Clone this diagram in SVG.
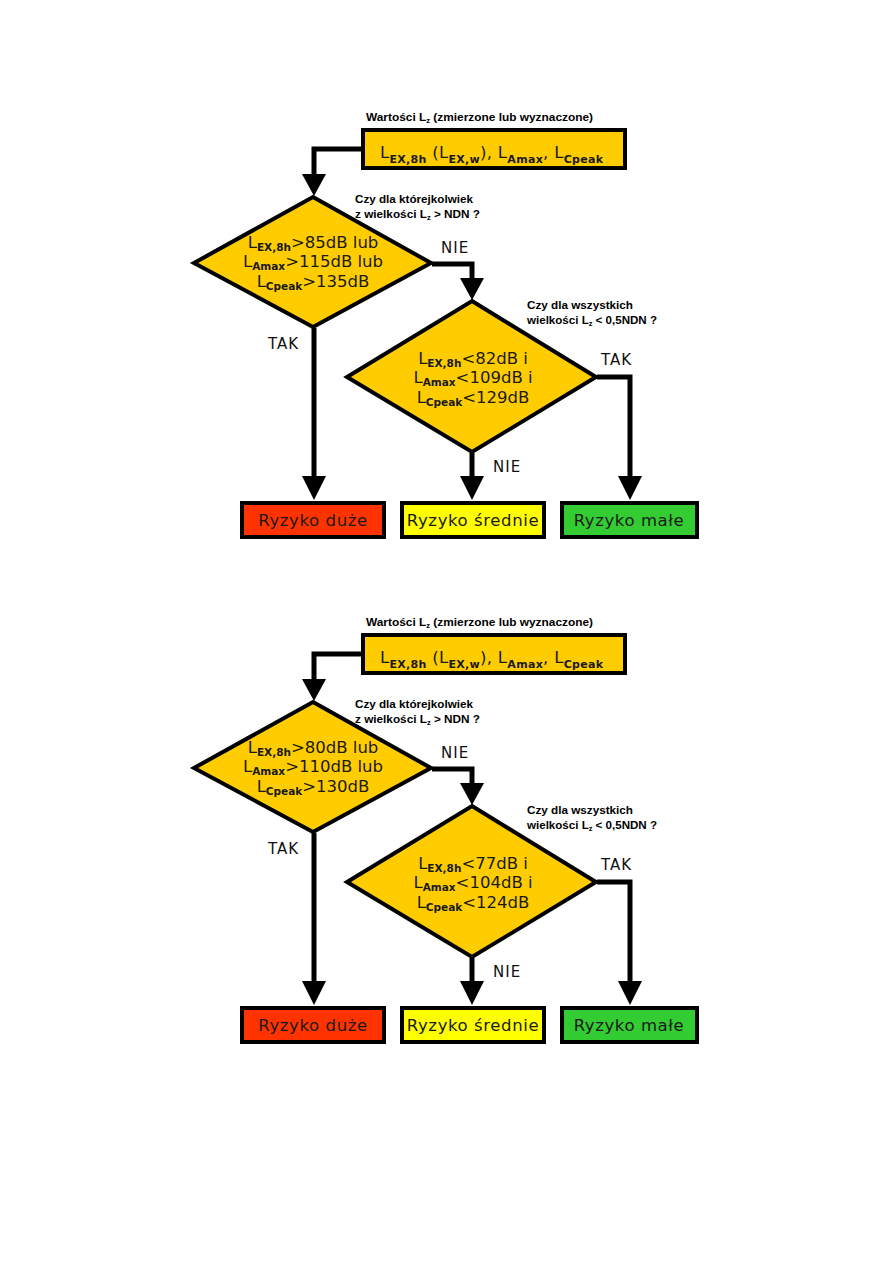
<svg xmlns="http://www.w3.org/2000/svg" width="893" height="1263" viewBox="0 0 893 1263">
<style>
.shape{stroke:#000;stroke-width:4;stroke-linejoin:miter}
.gold{fill:#FFCC00}
.red{fill:#FF3300}
.yel{fill:#FFFF00}
.grn{fill:#33CC33}
.conn{fill:none;stroke:#000;stroke-width:5;stroke-linejoin:miter}
.main{font-family:"DejaVu Sans",Verdana,sans-serif;font-size:16.5px;fill:#1a1a1a}
.box{font-family:"DejaVu Sans",Verdana,sans-serif;font-size:16.5px;fill:#1a1a1a;letter-spacing:0.6px}
.sub{font-size:11px;font-weight:bold}
.dsub{font-size:10.5px;font-weight:bold}
.lbl{font-family:"DejaVu Sans",Verdana,sans-serif;font-size:15px;fill:#111;letter-spacing:1px}
.q{font-family:"Liberation Sans",Arial,sans-serif;font-size:11px;font-weight:bold;fill:#000}
.qs{font-size:7px}
</style>
<rect width="893" height="1263" fill="#fff"/>

<!-- Chart 1 -->
<g id="chart1">
<g id="c1-connectors">
<polyline class="conn" points="362,149 314,149 314,176"/>
<path d="M302,174 L326,174 L314,196 Z"/>
<polyline class="conn" points="432,264 472,264 472,280"/>
<path d="M460,278 L484,278 L472,300 Z"/>
<polyline class="conn" points="314,328 314,478"/>
<path d="M302,476 L326,476 L314,500 Z"/>
<polyline class="conn" points="472,453 472,478"/>
<path d="M460,476 L484,476 L472,500 Z"/>
<polyline class="conn" points="597,377 630,377 630,478"/>
<path d="M618,476 L642,476 L630,500 Z"/>
<text class="lbl" x="441" y="253">NIE</text>
<text class="lbl" x="268" y="349">TAK</text>
<text class="lbl" x="601" y="365">TAK</text>
<text class="lbl" x="493" y="472">NIE</text>
</g>
<g id="c1-start">
<text class="q" x="366" y="121" textLength="227" lengthAdjust="spacingAndGlyphs">Wartości L<tspan class="qs" dy="2">z</tspan><tspan dy="-2"> (zmierzone lub wyznaczone)</tspan></text>
<rect class="shape gold" x="363" y="130" width="262" height="38"/>
<text class="main" x="380" y="158" textLength="223" lengthAdjust="spacing">L<tspan class="sub" dy="5">EX,8h</tspan><tspan dy="-5"> (L</tspan><tspan class="sub" dy="5">EX,w</tspan><tspan dy="-5">), L</tspan><tspan class="sub" dy="5">Amax</tspan><tspan dy="-5">, L</tspan><tspan class="sub" dy="5">Cpeak</tspan></text>
</g>
<g id="c1-decision1">
<polygon class="shape gold" points="313,197 431,263 313,327 194,263"/>
<text class="main" x="313" y="248" text-anchor="middle">L<tspan class="dsub" dy="3">EX,8h</tspan><tspan dy="-3">&gt;85dB lub</tspan></text>
<text class="main" x="313" y="267" text-anchor="middle">L<tspan class="dsub" dy="3">Amax</tspan><tspan dy="-3">&gt;115dB lub</tspan></text>
<text class="main" x="313" y="287" text-anchor="middle">L<tspan class="dsub" dy="3">Cpeak</tspan><tspan dy="-3">&gt;135dB</tspan></text>
<text class="q" x="355" y="203" textLength="118" lengthAdjust="spacingAndGlyphs">Czy dla którejkolwiek</text>
<text class="q" x="355" y="218" textLength="125" lengthAdjust="spacingAndGlyphs">z wielkości L<tspan class="qs" dy="2">z</tspan><tspan dy="-2"> &gt; NDN ?</tspan></text>
</g>
<g id="c1-decision2">
<polygon class="shape gold" points="472,301 596,377 472,452 347,377"/>
<text class="main" x="473" y="364" text-anchor="middle">L<tspan class="dsub" dy="3">EX,8h</tspan><tspan dy="-3">&lt;82dB i</tspan></text>
<text class="main" x="473" y="383" text-anchor="middle">L<tspan class="dsub" dy="3">Amax</tspan><tspan dy="-3">&lt;109dB i</tspan></text>
<text class="main" x="473" y="403" text-anchor="middle">L<tspan class="dsub" dy="3">Cpeak</tspan><tspan dy="-3">&lt;129dB</tspan></text>
<text class="q" x="527" y="309" textLength="106" lengthAdjust="spacingAndGlyphs">Czy dla wszystkich</text>
<text class="q" x="527" y="324" textLength="130" lengthAdjust="spacingAndGlyphs">wielkości L<tspan class="qs" dy="2">z</tspan><tspan dy="-2"> &lt; 0,5NDN ?</tspan></text>
</g>
<g id="c1-high">
<rect class="shape red" x="242" y="503" width="142" height="34"/>
<text class="box" x="313" y="526" text-anchor="middle">Ryzyko duże</text>
</g>
<g id="c1-medium">
<rect class="shape yel" x="402" y="503" width="142" height="34"/>
<text class="box" x="473" y="526" text-anchor="middle">Ryzyko średnie</text>
</g>
<g id="c1-low">
<rect class="shape grn" x="562" y="503" width="135" height="34"/>
<text class="box" x="629" y="526" text-anchor="middle">Ryzyko małe</text>
</g>
</g>

<!-- Chart 2 -->
<g id="chart2" transform="translate(0,505)">
<g id="c2-connectors">
<polyline class="conn" points="362,149 314,149 314,176"/>
<path d="M302,174 L326,174 L314,196 Z"/>
<polyline class="conn" points="432,264 472,264 472,280"/>
<path d="M460,278 L484,278 L472,300 Z"/>
<polyline class="conn" points="314,328 314,478"/>
<path d="M302,476 L326,476 L314,500 Z"/>
<polyline class="conn" points="472,453 472,478"/>
<path d="M460,476 L484,476 L472,500 Z"/>
<polyline class="conn" points="597,377 630,377 630,478"/>
<path d="M618,476 L642,476 L630,500 Z"/>
<text class="lbl" x="441" y="253">NIE</text>
<text class="lbl" x="268" y="349">TAK</text>
<text class="lbl" x="601" y="365">TAK</text>
<text class="lbl" x="493" y="472">NIE</text>
</g>
<g id="c2-start">
<text class="q" x="366" y="121" textLength="227" lengthAdjust="spacingAndGlyphs">Wartości L<tspan class="qs" dy="2">z</tspan><tspan dy="-2"> (zmierzone lub wyznaczone)</tspan></text>
<rect class="shape gold" x="363" y="130" width="262" height="38"/>
<text class="main" x="380" y="158" textLength="223" lengthAdjust="spacing">L<tspan class="sub" dy="5">EX,8h</tspan><tspan dy="-5"> (L</tspan><tspan class="sub" dy="5">EX,w</tspan><tspan dy="-5">), L</tspan><tspan class="sub" dy="5">Amax</tspan><tspan dy="-5">, L</tspan><tspan class="sub" dy="5">Cpeak</tspan></text>
</g>
<g id="c2-decision1">
<polygon class="shape gold" points="313,197 431,263 313,327 194,263"/>
<text class="main" x="313" y="248" text-anchor="middle">L<tspan class="dsub" dy="3">EX,8h</tspan><tspan dy="-3">&gt;80dB lub</tspan></text>
<text class="main" x="313" y="267" text-anchor="middle">L<tspan class="dsub" dy="3">Amax</tspan><tspan dy="-3">&gt;110dB lub</tspan></text>
<text class="main" x="313" y="287" text-anchor="middle">L<tspan class="dsub" dy="3">Cpeak</tspan><tspan dy="-3">&gt;130dB</tspan></text>
<text class="q" x="355" y="203" textLength="118" lengthAdjust="spacingAndGlyphs">Czy dla którejkolwiek</text>
<text class="q" x="355" y="218" textLength="125" lengthAdjust="spacingAndGlyphs">z wielkości L<tspan class="qs" dy="2">z</tspan><tspan dy="-2"> &gt; NDN ?</tspan></text>
</g>
<g id="c2-decision2">
<polygon class="shape gold" points="472,301 596,377 472,452 347,377"/>
<text class="main" x="473" y="364" text-anchor="middle">L<tspan class="dsub" dy="3">EX,8h</tspan><tspan dy="-3">&lt;77dB i</tspan></text>
<text class="main" x="473" y="383" text-anchor="middle">L<tspan class="dsub" dy="3">Amax</tspan><tspan dy="-3">&lt;104dB i</tspan></text>
<text class="main" x="473" y="403" text-anchor="middle">L<tspan class="dsub" dy="3">Cpeak</tspan><tspan dy="-3">&lt;124dB</tspan></text>
<text class="q" x="527" y="309" textLength="106" lengthAdjust="spacingAndGlyphs">Czy dla wszystkich</text>
<text class="q" x="527" y="324" textLength="130" lengthAdjust="spacingAndGlyphs">wielkości L<tspan class="qs" dy="2">z</tspan><tspan dy="-2"> &lt; 0,5NDN ?</tspan></text>
</g>
<g id="c2-high">
<rect class="shape red" x="242" y="503" width="142" height="34"/>
<text class="box" x="313" y="526" text-anchor="middle">Ryzyko duże</text>
</g>
<g id="c2-medium">
<rect class="shape yel" x="402" y="503" width="142" height="34"/>
<text class="box" x="473" y="526" text-anchor="middle">Ryzyko średnie</text>
</g>
<g id="c2-low">
<rect class="shape grn" x="562" y="503" width="135" height="34"/>
<text class="box" x="629" y="526" text-anchor="middle">Ryzyko małe</text>
</g>
</g>
</svg>
